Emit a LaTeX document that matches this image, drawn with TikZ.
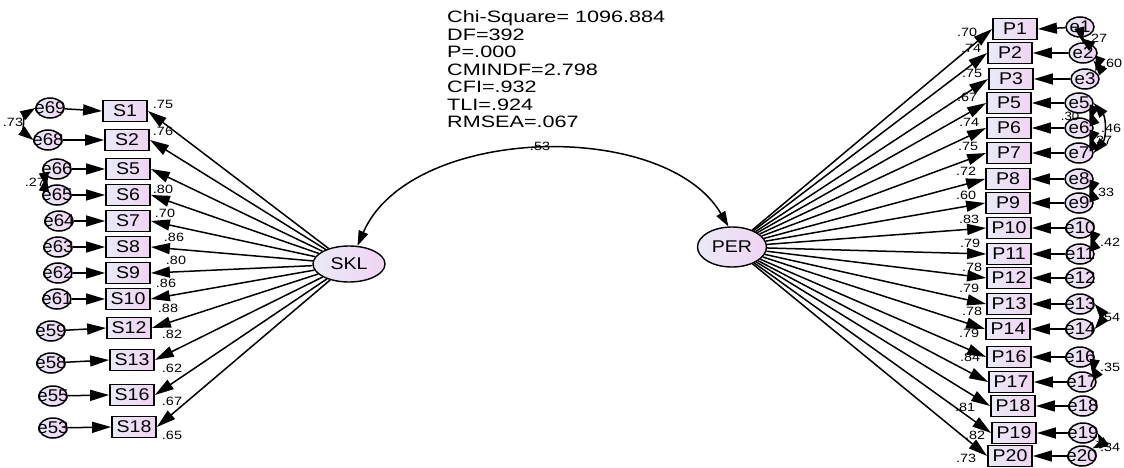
\documentclass[tikz,border=0pt]{standalone}
\usepackage{fontspec}
\setmainfont{Liberation Sans}
\usepackage{graphicx}
\usetikzlibrary{arrows.meta,shapes.geometric}
\definecolor{boxL}{RGB}{234,234,248}
\definecolor{boxR}{RGB}{240,212,242}
\newcommand{\hs}[2][1.2]{\scalebox{#1}[1]{#2}}
\newcommand{\ez}[1]{\makebox[0pt]{\hs[1.1]{#1}}}
\tikzset{
  grad/.style={left color=boxL, right color=boxR},
  ind/.style={draw, line width=1.8pt, rectangle, minimum width=44pt, minimum height=21pt, inner sep=0pt, grad, font=\fontsize{17}{17}\selectfont},
  errc/.style={draw, line width=1.5pt, ellipse, minimum width=28pt, minimum height=20pt, inner sep=0pt, grad, font=\fontsize{17}{17}\selectfont},
  lat/.style={draw, line width=1.4pt, ellipse, minimum width=72pt, minimum height=36pt, inner sep=0pt, grad, font=\fontsize{17}{17}\selectfont},
  arr/.style={-{Triangle[length=19pt,width=11pt]}, line width=1.5pt},
  cov/.style={{Triangle[length=15pt,width=10pt]}-{Triangle[length=15pt,width=10pt]}, line width=1.5pt},
  lbl/.style={inner sep=0pt, font=\fontsize{12}{12}\selectfont},
  fitline/.style={inner sep=0pt, anchor=base west, font=\fontsize{16.5}{16.5}\selectfont}
}
\begin{document}
\begin{tikzpicture}[x=1pt,y=-1pt]
\useasboundingbox[fill=white] (0,0) rectangle (1124,468);
% fit statistics
\foreach \t [count=\i] in {Chi-Square= 1096.884,DF=392,P=.000,CMINDF=2.798,CFI=.932,TLI=.924,RMSEA=.067}
  \node[fitline] (fit\i) at (447,{23+17.5*(\i-1)}) {\hs[1.31]{\t}};
% latent variables
\node[lat] (SKL) at (349,264) {\makebox[0pt]{\hs[1.15]{SKL}}};
\node[lat, minimum width=69pt, minimum height=40pt] (PER) at (732,247) {\makebox[0pt]{\hs[1.15]{PER}}};
\draw[cov] (SKL.65) .. controls (410,125) and (665,118) .. (PER.100);
\node[lbl] (c53) at (540,146) {\hs{.53}};
% left indicators
\foreach \n/\x/\y/\ex/\ey/\l/\lx/\ly in {
  S1/125/111/50/108/.75/163/104,
  S2/127/140/48/140/.76/163/131,
  S5/128/169/57/169//0/0,
  S6/128/195/57/195/.80/163/189,
  S7/128/221/59/221/.70/165/213,
  S8/128/247/58/247/.86/174/237,
  S9/128/273/58/273/.80/176/260,
  S10/128/299/57/299/.86/166/283,
  S12/129/328/51/331/.88/168/308,
  S13/132/360/51/363/.82/172/334,
  S16/132/395/53/396/.62/172/368,
  S18/134/427/53/428/.67/172/401}
{
  \node[ind] (\n) at (\x,\y) {\hs[1.15]{\n}};
  \node[errc] (e\n) at (\ex,\ey) {};
  \draw[arr] (e\n) -- (\n.west);
  \draw[arr] (SKL) -- (\n.east);
  \node[lbl] (l\n) at (\lx,\ly) {\hs{\l}};
}
\node[lbl] (lS18b) at (172,435) {\hs{.65}};
\foreach \n/\t in {S1/e69,S2/e68,S5/e66,S6/e65,S7/e64,S8/e63,S9/e62,S10/e61,S12/e59,S13/e58,S16/e55,S18/e53}
  \node[font=\fontsize{17}{17}\selectfont, inner sep=0pt] (t\n) at (e\n) {\ez{\t}};
\draw[cov] (eS1.west) to[bend right=55] (eS2.west);
\node[lbl] (c73) at (13,122) {\hs{.73}};
\draw[cov] (eS5.south west) to[bend right=10] (eS6.north west);
\node[lbl] (c27l) at (35,182) {\hs{.27}};
% right indicators
\foreach \n/\x/\y/\ex/\ey/\l/\lx/\ly in {
  P1/1015/29/1080/27/.70/967/32,
  P2/1010/53/1083/53/.74/971/48,
  P3/1011/79/1085/79/.75/972/73,
  P5/1009/103/1079/103/.67/967/97,
  P6/1009/128/1079/128/.74/969/122,
  P7/1009/153/1079/153/.75/968/146,
  P8/1008/179/1079/179/.72/966/171,
  P9/1008/203/1079/203/.60/966/195,
  P10/1009/228/1080/228/.83/969/219,
  P11/1009/254/1080/254/.79/970/243,
  P12/1009/278/1080/278/.78/972/267,
  P13/1009/304/1080/304/.79/969/288,
  P14/1008/329/1080/329/.78/972/311,
  P16/1009/357/1080/357/.79/969/333,
  P17/1011/382/1082/382/.84/970/357,
  P18/1013/406/1083/406/.81/965/407,
  P19/1014/433/1083/433/.82/975/435,
  P20/1010/456/1082/456/.73/966/458}
{
  \node[ind] (\n) at (\x,\y) {\hs[1.15]{\n}};
  \node[errc] (e\n) at (\ex,\ey) {};
  \draw[arr] (e\n) -- (\n.east);
  \draw[arr] (PER) -- (\n.west);
  \node[lbl] (l\n) at (\lx,\ly) {\hs{\l}};
}
\foreach \n/\t in {P1/e1,P2/e2,P3/e3,P5/e5,P6/e6,P7/e7,P8/e8,P9/e9,P10/e10,P11/e11,P12/e12,P13/e13,P14/e14,P16/e16,P17/e17,P18/e18,P19/e19,P20/e20}
  \node[font=\fontsize{17}{17}\selectfont, inner sep=0pt] (t\n) at (e\n) {\ez{\t}};
% right covariances
\draw[cov] (eP1.south) to[bend left=20] (eP2.north);
\node[lbl] (c27) at (1097,38) {\hs{.27}};
\draw[cov] (eP2.south east) to[bend left=30] (eP3.north east);
\node[lbl] (c60) at (1112,63) {\hs{.60}};
\draw[cov] (eP5.south east) to[bend left=20] (eP6.north east);
\node[lbl] (c30) at (1070,116) {\hs[1.1]{.30}};
\draw[cov] (eP5.east) to[bend left=40] (eP7.east);
\node[lbl] (c46) at (1111,128) {\hs{.46}};
\draw[cov] (eP6.south east) to[bend left=20] (eP7.north east);
\node[lbl] (c37) at (1102,140) {\hs{.37}};
\draw[cov] (eP8.south east) to[bend left=20] (eP9.north east);
\node[lbl] (c33) at (1104,192) {\hs{.33}};
\draw[cov] (eP10.south east) to[bend left=20] (eP11.north east);
\node[lbl] (c42) at (1110,242) {\hs{.42}};
\draw[cov] (eP13.east) to[bend left=40] (eP14.east);
\node[lbl] (c54) at (1110,317) {\hs{.54}};
\draw[cov] (eP16.south east) to[bend left=20] (eP17.north east);
\node[lbl] (c35) at (1110,367) {\hs{.35}};
\draw[cov] (eP19.east) to[bend left=45] (eP20.north east);
\node[lbl] (c34) at (1110,447) {\hs{.34}};
\end{tikzpicture}
\end{document}
